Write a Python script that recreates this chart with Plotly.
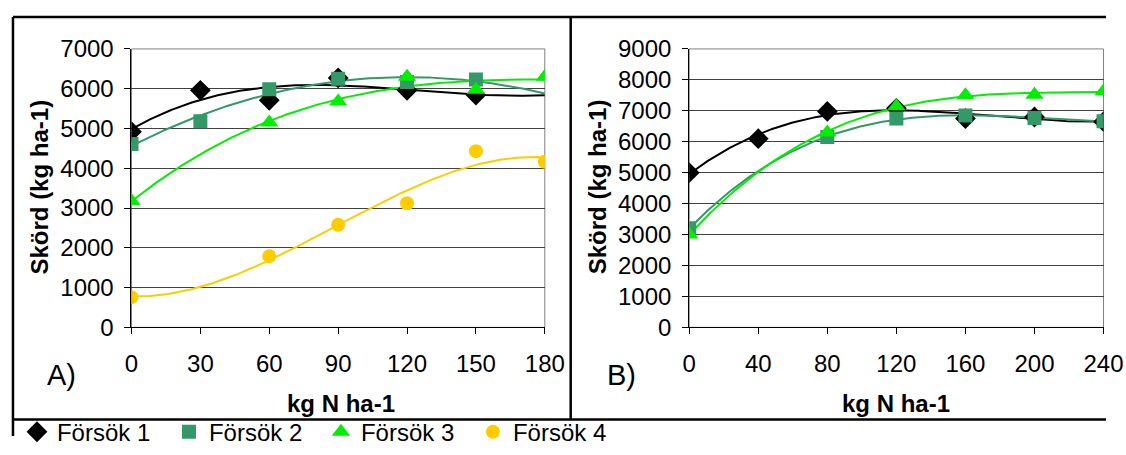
import numpy as np
import plotly.graph_objects as go

W, H = 1126, 455

# ---------------- data ----------------
series_names = ["Försök 1", "Försök 2", "Försök 3", "Försök 4"]

xA = [0, 30, 60, 90, 120, 150, 180]
A_f1 = [4920, 5960, 5710, 6270, 5960, 5840, None]
A_f2 = [4610, 5180, 5985, 6250, 6170, 6230, None]
A_f3 = [3180, None, 5150, 5680, 6300, 5975, 6300]
A_f4 = [760, None, 1790, 2580, 3120, 4430, 4165]

xB = [0, 40, 80, 120, 160, 200, 240]
B_f1 = [5000, 6100, 6980, 7080, 6750, 6800, 6650]
B_f2 = [3200, None, 6150, 6750, 6850, 6770, 6660]
B_f3 = [3000, None, 6300, 7150, 7500, 7520, 7630]

xA_ticks = [0, 30, 60, 90, 120, 150, 180]
yA_ticks = [0, 1000, 2000, 3000, 4000, 5000, 6000, 7000]
xB_ticks = [0, 40, 80, 120, 160, 200, 240]
yB_ticks = [0, 1000, 2000, 3000, 4000, 5000, 6000, 7000, 8000, 9000]

x_title = "kg N ha-1"
y_title = "Skörd (kg ha-1)"

# ---------------- styles ----------------
colors = ["#000000", "#339966", "#00EE00", "#FFCC00"]
symbols = ["diamond", "square", "triangle-up", "circle"]
sizes = [16, 14, 16, 14]
FONT = "Arial, Liberation Sans, sans-serif"
TICK_SIZE = 24
TITLE_SIZE = 24


def trend(x, y, xmax):
    xs = np.array([a for a, b in zip(x, y) if b is not None], dtype=float)
    ys = np.array([b for b in y if b is not None], dtype=float)
    c = np.polyfit(xs, ys, 3)
    xx = np.linspace(0, xmax, 241)
    return xx, np.polyval(c, xx)


fig = go.Figure()

panelA = [A_f1, A_f2, A_f3, A_f4]
panelB = [B_f1, B_f2, B_f3]

for i, ys in enumerate(panelA):
    xx, yy = trend(xA, ys, max(xA))
    fig.add_trace(go.Scatter(x=xx, y=yy, mode="lines", line=dict(color=colors[i], width=2),
                             xaxis="x", yaxis="y", showlegend=False, hoverinfo="skip"))
for i, ys in enumerate(panelB):
    xx, yy = trend(xB, ys, max(xB))
    fig.add_trace(go.Scatter(x=xx, y=yy, mode="lines", line=dict(color=colors[i], width=2),
                             xaxis="x2", yaxis="y2", showlegend=False, hoverinfo="skip"))

for i, ys in enumerate(panelA):
    fig.add_trace(go.Scatter(x=xA, y=ys, mode="markers", name=series_names[i],
                             marker=dict(color=colors[i], symbol=symbols[i], size=sizes[i], line=dict(width=0)),
                             xaxis="x", yaxis="y", legendgroup=series_names[i], showlegend=True))
for i, ys in enumerate(panelB):
    fig.add_trace(go.Scatter(x=xB, y=ys, mode="markers", name=series_names[i],
                             marker=dict(color=colors[i], symbol=symbols[i], size=sizes[i], line=dict(width=0)),
                             xaxis="x2", yaxis="y2", legendgroup=series_names[i], showlegend=False))


# layout positions are given in picture pixels and converted to paper fractions,
# compensating for the small inset/scale observed in the captured page
def px(x):
    return ((x - 5) / 0.98) / W


def py(y):
    return 1 - ((y - 12) / 0.956) / H


axis_common = dict(showline=True, linecolor="black", linewidth=1, ticks="outside", ticklen=6,
                   tickcolor="black", tickwidth=1, zeroline=False,
                   tickfont=dict(family=FONT, size=TICK_SIZE, color="black"))

fig.update_layout(
    width=W, height=H, margin=dict(l=0, r=0, t=0, b=0),
    paper_bgcolor="white", plot_bgcolor="white",
    xaxis=dict(domain=[px(130), px(545)], range=[0, 180], tickvals=xA_ticks, showgrid=False,
               anchor="y", ticklabelstandoff=9, **axis_common),
    yaxis=dict(domain=[py(335), py(48)], range=[0, 7000], tickvals=yA_ticks, showgrid=True,
               gridcolor="#404040", gridwidth=1, anchor="x", ticklabelstandoff=6, **axis_common),
    xaxis2=dict(domain=[px(690), min(1.0, px(1106))], range=[0, 240], tickvals=xB_ticks, showgrid=False,
                anchor="y2", ticklabelstandoff=9, **axis_common),
    yaxis2=dict(domain=[py(335), py(48)], range=[0, 9000], tickvals=yB_ticks, showgrid=True,
                gridcolor="#404040", gridwidth=1, anchor="x2", ticklabelstandoff=6, **axis_common),
    legend=dict(orientation="h", x=px(15), xanchor="left", y=py(443), yanchor="middle",
                entrywidth=107, entrywidthmode="pixels", itemwidth=30,
                font=dict(family=FONT, size=TICK_SIZE, color="black"), bgcolor="rgba(0,0,0,0)"),
    showlegend=True,
)

shapes = []
for xr, yr in (("x", "y"), ("x2", "y2")):
    shapes.append(dict(type="rect", xref=f"{xr} domain", yref=f"{yr} domain", x0=0, x1=1, y0=0, y1=1,
                       line=dict(color="#808080", width=1), layer="below"))
frame = dict(color="black", width=2.5)
shapes += [
    dict(type="line", xref="paper", yref="paper", x0=px(11), x1=1, y0=py(15), y1=py(15), line=frame),
    dict(type="line", xref="paper", yref="paper", x0=px(11), x1=px(11), y0=py(15), y1=0, line=frame),
    dict(type="line", xref="paper", yref="paper", x0=px(571), x1=px(571), y0=py(15), y1=py(430), line=frame),
    dict(type="line", xref="paper", yref="paper", x0=px(11), x1=1, y0=py(430), y1=py(430), line=frame),
]
fig.update_layout(shapes=shapes)


def label(text, x, y, size, angle=0):
    return dict(text=text, x=px(x), y=py(y), xref="paper", yref="paper", xanchor="center",
                yanchor="middle", showarrow=False, textangle=angle,
                font=dict(family=FONT, size=size, color="black"))


annots = [
    label(f"<b>{x_title}</b>", 340, 413, TITLE_SIZE),
    label(f"<b>{x_title}</b>", 898, 413, TITLE_SIZE),
    label(f"<b>{y_title}</b>", 38, 190, TITLE_SIZE, -90),
    label(f"<b>{y_title}</b>", 598, 190, TITLE_SIZE, -90),
    label("A)", 60, 384, 29),
    label("B)", 622, 384, 29),
]
fig.update_layout(annotations=annots)

fig.write_html("out.html", config={"displayModeBar": False},
               post_script="document.body.style.margin='0';document.documentElement.style.overflow='hidden';document.body.style.overflow='hidden';")
